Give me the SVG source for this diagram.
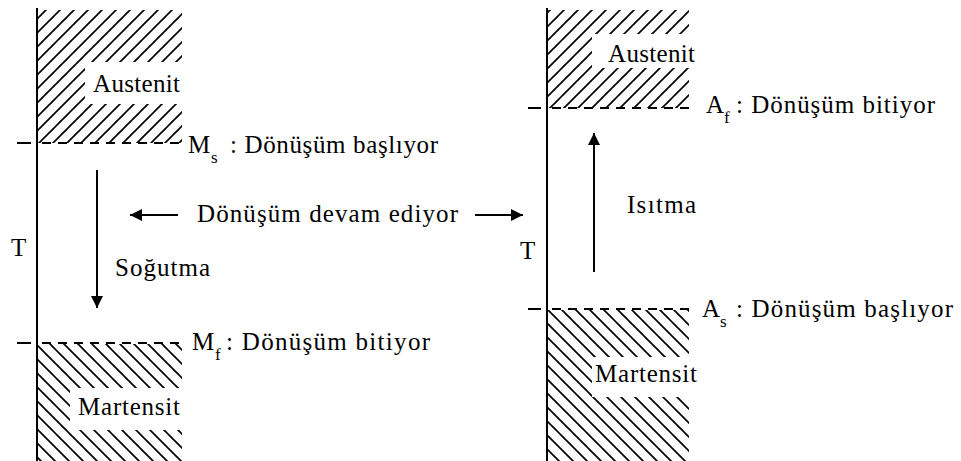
<svg xmlns="http://www.w3.org/2000/svg" width="961" height="461" viewBox="0 0 961 461">
<style>
text{font-family:"Liberation Serif","DejaVu Serif",serif;font-size:25px;fill:#000}
.sub{font-size:17px}
.axis{stroke:#000;stroke-width:2;fill:none}
.tick{stroke:#000;stroke-width:2}
.dash{stroke:#000;stroke-width:2;stroke-dasharray:9 7;fill:none}
.conn{stroke:#000;stroke-width:2;fill:none;marker-end:url(#ah)}
.mask{fill:#fff}
</style>
<defs>
<pattern id="hatchF" patternUnits="userSpaceOnUse" width="14" height="14">
<path d="M-2,2 L2,-2 M0,14 L14,0 M12,16 L16,12" stroke="#000" stroke-width="1.7"/>
</pattern>
<pattern id="hatchB" patternUnits="userSpaceOnUse" width="14" height="14">
<path d="M-2,12 L2,16 M0,0 L14,14 M12,-2 L16,2" stroke="#000" stroke-width="1.7"/>
</pattern>
<marker id="ah" markerUnits="userSpaceOnUse" markerWidth="14" markerHeight="14" refX="12" refY="6" orient="auto">
<path d="M0,0 L12,6 L0,12 z" fill="#000"/>
</marker>
</defs>
<rect width="961" height="461" fill="#fff"/>

<g id="left-austenite">
<rect x="38" y="10" width="144" height="133" fill="url(#hatchF)"/>
<rect class="mask" x="85" y="62" width="97" height="42"/>
<text x="93" y="92" textLength="87">Austenit</text>
</g>
<g id="left-martensite">
<rect x="38" y="344" width="144" height="117" fill="url(#hatchB)"/>
<rect class="mask" x="70" y="388" width="112" height="42"/>
<text x="78" y="415" textLength="102">Martensit</text>
</g>
<g id="left-axis">
<line class="axis" x1="37" y1="8" x2="37" y2="461"/>
<line class="tick" x1="17" y1="143" x2="31" y2="143"/>
<line class="tick" x1="17" y1="343" x2="31" y2="343"/>
<line class="dash" x1="42" y1="143" x2="182" y2="143"/>
<line class="dash" x1="42" y1="343" x2="182" y2="343"/>
<text x="11" y="256">T</text>
</g>
<g id="ms-label">
<text x="188" y="153">M</text><text class="sub" x="211" y="163">s</text>
<text x="230" y="153" textLength="208">: Dönüşüm başlıyor</text>
</g>
<g id="mf-label">
<text x="192" y="350">M</text><text class="sub" x="215" y="360">f</text>
<text x="226" y="350" textLength="204">: Dönüşüm bitiyor</text>
</g>
<g id="sogutma">
<text x="115" y="276" textLength="95">Soğutma</text>
</g>
<g id="devam">
<text x="197" y="222" textLength="261">Dönüşüm devam ediyor</text>
</g>

<g id="right-austenite">
<rect x="548" y="10" width="141" height="98" fill="url(#hatchF)"/>
<rect class="mask" x="592" y="34" width="98" height="34"/>
<text x="608" y="62" textLength="87">Austenit</text>
</g>
<g id="right-martensite">
<rect x="548" y="310" width="141" height="151" fill="url(#hatchB)"/>
<rect class="mask" x="592" y="357" width="98" height="40"/>
<text x="595" y="382" textLength="102">Martensit</text>
</g>
<g id="right-axis">
<line class="axis" x1="547" y1="8" x2="547" y2="461"/>
<line class="tick" x1="528" y1="108" x2="541" y2="108"/>
<line class="tick" x1="528" y1="309" x2="541" y2="309"/>
<line class="dash" x1="552" y1="108" x2="690" y2="108"/>
<line class="dash" x1="552" y1="309" x2="690" y2="309"/>
<text x="520" y="259">T</text>
</g>
<g id="af-label">
<text x="706" y="113">A</text><text class="sub" x="724" y="123">f</text>
<text x="736" y="113" textLength="199">: Dönüşüm bitiyor</text>
</g>
<g id="as-label">
<text x="702" y="317">A</text><text class="sub" x="720" y="327">s</text>
<text x="736" y="317" textLength="217">: Dönüşüm başlıyor</text>
</g>
<g id="isitma">
<text x="627" y="213" textLength="69">Isıtma</text>
</g>

<g id="connectors">
<line class="conn" x1="97" y1="170" x2="97" y2="308"/>
<line class="conn" x1="178" y1="215" x2="130" y2="215"/>
<line class="conn" x1="475" y1="215" x2="523" y2="215"/>
<line class="conn" x1="594" y1="272" x2="594" y2="133"/>
</g>
</svg>
